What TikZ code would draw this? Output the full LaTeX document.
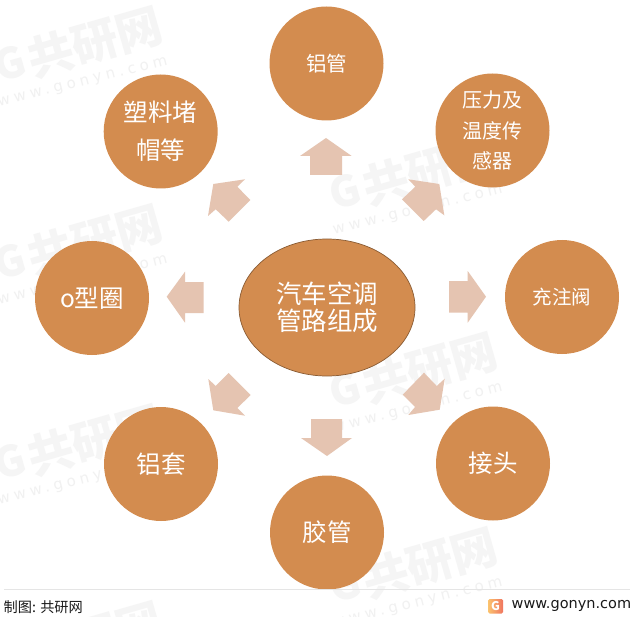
\documentclass[tikz,border=0pt]{standalone}
\usepackage{fontspec}
\setmainfont{Noto Sans CJK SC}
\newfontfamily\wmfont[LetterSpace=28]{DejaVu Sans}
\newfontfamily\urlfont{DejaVu Sans}
\definecolor{ochre}{HTML}{D38C4F}
\definecolor{pale}{HTML}{E5C4B1}
\definecolor{wmgray}{HTML}{F5F5F5}
\definecolor{wmtext}{HTML}{F1F1F1}
\definecolor{logoa}{HTML}{FBC36E}
\definecolor{logob}{HTML}{F0755F}
\tikzset{
  item/.style={circle,fill=ochre,draw=none,minimum size=114pt,inner sep=0pt,text=white,align=center},
  hub/.style={ellipse,fill=ochre,draw=ochre!65!black,line width=.7pt,minimum width=176pt,minimum height=137pt,inner sep=0pt,text=white,align=center},
  blockarrow/.style={fill=pale,draw=none},
  wmcjk/.style={text=wmgray,font=\bfseries\fontsize{46}{46}\selectfont,inner sep=0pt,rotate=16},
  wmg/.style={text=wmgray,font=\bfseries\fontsize{42}{42}\selectfont,inner sep=0pt,rotate=16},
  wmurl/.style={text=wmtext,font=\wmfont\fontsize{15}{15}\selectfont,inner sep=0pt,rotate=14},
}
\usetikzlibrary{shapes.geometric}
\begin{document}
\begin{tikzpicture}[x=1pt,y=-1pt]
\useasboundingbox (0,0) rectangle (636,617);
\fill[white] (0,0) rectangle (636,617);
% watermarks
\foreach \n/\wx/\wy in {a/95/42,b/95/240,c/95/440,d/95/637,e/430/170,f/430/368,g/430/563}{
  \node[wmcjk] (wm\n) at (\wx,\wy) {共研网};
  \node[wmg] (wg\n) at (\wx-85,\wy+21) {G};
  \node[wmurl] (wu\n) at (\wx-12,\wy+41) {www.gonyn.com};
}
% hub
\node[hub,font=\fontsize{25.5}{27.5}\selectfont] (hub) at (327,307.5) {汽车空调\\管路组成};
% items
\node[item,font=\fontsize{20.5}{24}\selectfont] (a1) at (326.5,63.5) {铝管};
\node[item,font=\fontsize{20}{30.5}\selectfont] (a2) at (492.5,130.5) {压力及\\温度传\\感器};
\node[item,font=\fontsize{19.5}{24}\selectfont] (a3) at (562,297) {充注阀};
\node[item,font=\fontsize{24.5}{28}\selectfont] (a4) at (493,463.5) {接头};
\node[item,font=\fontsize{24.5}{28}\selectfont] (a5) at (327,532.5) {胶管};
\node[item,font=\fontsize{24.5}{28}\selectfont] (a6) at (161,464) {铝套};
\node[item,font=\fontsize{24.5}{28}\selectfont] (a7) at (92,298) {o型圈};
\node[item,font=\fontsize{24.5}{38}\selectfont] (a8) at (160.7,131.5) {塑料堵\\帽等};
% block arrows
\fill[blockarrow] (326,138) -- (351.7,156) -- (342,156) -- (342,175) -- (310,175) -- (310,156) -- (300,156) -- cycle;
\fill[blockarrow] (486,296.7) -- (467.7,322.7) -- (467.7,312.5) -- (449,312.5) -- (449,281) -- (467.7,281) -- (467.7,271) -- cycle;
\fill[blockarrow] (166.7,296.7) -- (185,271.7) -- (185,282) -- (203.7,282) -- (203.7,313) -- (185,313) -- (185,322.7) -- cycle;
\fill[blockarrow] (327,456) -- (352,438) -- (342,438) -- (342,419) -- (311,419) -- (311,438) -- (301,438) -- cycle;
\fill[blockarrow] (245,179.3) -- (213.3,184) -- (208,216) -- (215.7,209.3) -- (228.7,221.7) -- (250.3,200) -- (237.3,186.7) -- cycle;
\fill[blockarrow] (408.3,179.3) -- (439.3,184) -- (444.3,215.3) -- (436,209.3) -- (423.7,221) -- (402,199.3) -- (415.3,186.7) -- cycle;
\fill[blockarrow] (444.7,378.7) -- (439.7,409.7) -- (408.3,415) -- (415,407) -- (402.7,394.7) -- (424,372.7) -- (436.7,386) -- cycle;
\fill[blockarrow] (208.3,379) -- (213.3,410.3) -- (245,415.7) -- (237.3,408) -- (250.7,395) -- (228.7,373) -- (215.7,386) -- cycle;
% footer
\coordinate (fl) at (4,589.5);
\coordinate (fr) at (630,589.5);
\draw[color=black!10,line width=.7pt] (fl) -- (fr);
\node[anchor=west,inner sep=0pt,text=black!90,font=\fontsize{14.2}{16}\selectfont] (src) at (3.5,607) {制图: 共研网};
\node[anchor=west,inner sep=0pt,text=black!90,font=\urlfont\fontsize{14.5}{17}\selectfont] (url) at (511.5,605.5) {www.gonyn.com};
\shade[left color=logoa,right color=logob,rounded corners=1.5pt] (488,599) rectangle (503,613.5);
\node[inner sep=0pt,text=white,font=\bfseries\fontsize{12}{12}\selectfont] (logo) at (495.5,606) {G};
\end{tikzpicture}
\end{document}
